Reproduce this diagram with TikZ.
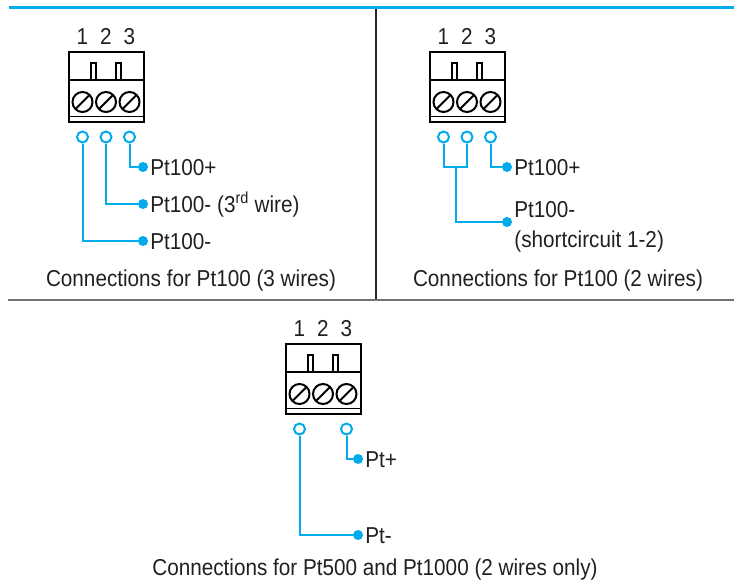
\documentclass[tikz,border=0pt]{standalone}
\usepackage{fontspec}
\setmainfont{Liberation Sans}[FakeStretch=0.9]
\usepackage{xcolor}
\usepackage{tikz}
\usetikzlibrary{positioning}

\definecolor{pblue}{RGB}{0,170,235}
\definecolor{ink}{RGB}{35,31,32}

\tikzset{
  wire/.style={draw=pblue, line width=2pt},
  term/.style={circle, draw=pblue, line width=2pt, fill=white, minimum size=11pt, inner sep=0pt},
  dot/.style={circle, fill=pblue, minimum size=10pt, inner sep=0pt},
  txt/.style={font=\fontsize{23}{30}\selectfont, text=ink, inner sep=0pt},
  lbl/.style={txt, text height=16.5pt, text depth=0pt},
  block/.style={draw=black, line width=2.5pt},
  pics/tblock/.style={code={
    \draw[block] (0,0) rectangle (75,70);
    \draw[line width=2pt] (0,28) -- (75,28);
    \draw[line width=1pt] (0,64) -- (75,64);
    \draw[line width=1.8pt] (22,28) -- (22,11) -- (27,11) -- (27,28);
    \draw[line width=1.8pt] (47,28) -- (47,11) -- (52,11) -- (52,28);
    \foreach \i in {1,2,3} {
      \draw[line width=2pt] ({13.5+23.5*(\i-1)},50) circle[radius=10pt];
      \draw[line width=2pt] ({13.5+23.5*(\i-1)},50) +(225:10pt) -- +(45:10pt);
      \node[lbl] (-n\i) at ({13.5+23.5*(\i-1)},-16) {\i};
    }
    \foreach \i in {#1} {\node[term] (-t\i) at ({13.5+23.5*(\i-1)},85) {};}
  }}
}

\begin{document}
\begin{tikzpicture}[x=1pt, y=-1pt]
\useasboundingbox (0,0) rectangle (734,584);

% frame lines
\draw[pblue, line width=3pt] (9,7.5) -- (734,7.5);
\draw[black!85, line width=1.5pt] (376,9) -- (376,300);
\draw[black!55, line width=2pt] (8,300) -- (734,300);

% 3 wires
\pic (A) at (69,52) {tblock={1,2,3}};
\node[dot] (a1) at (143,167) {};
\node[dot] (a2) at (143,204) {};
\node[dot] (a3) at (143,241) {};
\node[lbl, right=2pt of a1] {Pt100+};
\node[lbl, right=2pt of a2] {Pt100- (3\textsuperscript{rd} wire)};
\node[lbl, right=2pt of a3] {Pt100-};
\draw[wire] (A-t3) |- (a1);
\draw[wire] (A-t2) |- (a2);
\draw[wire] (A-t1) |- (a3);
\node[lbl] (capA) at (191,278) {Connections for Pt100 (3 wires)};

% 2 wires
\pic (B) at (430,52) {tblock={1,2,3}};
\node[dot] (b1) at (507,167) {};
\node[dot] (b2) at (507,222) {};
\coordinate (bj) at (456,167);
\node[lbl, right=2pt of b1] {Pt100+};
\node[txt, align=left, right=2pt of b2, yshift=-5pt] {Pt100-\\(shortcircuit 1-2)};
\draw[wire] (B-t3) |- (b1);
\draw[wire] (B-t1) |- (bj) -| (B-t2);
\draw[wire] (bj) |- (b2);
\node[lbl] (capB) at (558,278) {Connections for Pt100 (2 wires)};

% Pt500 / Pt1000
\pic (C) at (286,344) {tblock={1,3}};
\node[dot] (c1) at (358,459) {};
\node[dot] (c2) at (358,535) {};
\node[lbl, right=2pt of c1] {Pt+};
\node[lbl, right=2pt of c2] {Pt-};
\draw[wire] (C-t3) |- (c1);
\draw[wire] (C-t1) |- (c2);
\node[lbl] (capC) at (375,567) {Connections for Pt500 and Pt1000 (2 wires only)};
\end{tikzpicture}
\end{document}
